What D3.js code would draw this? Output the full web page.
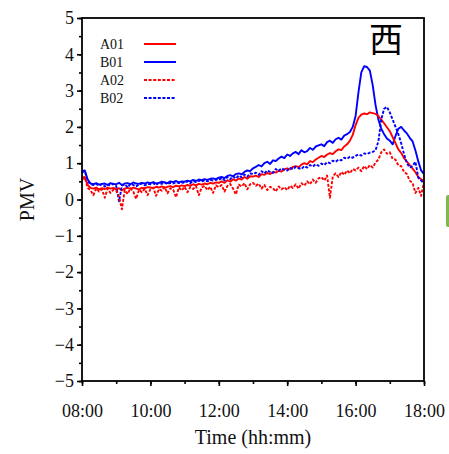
<!DOCTYPE html>
<html lang="zh">
  <head>
    <meta charset="utf-8">
    <title>PMV 西</title>
    <script src="https://d3js.org/d3.v7.min.js"></script>
    <style>
      body { margin: 0; background: #fff; }
      text { font-family: "Liberation Serif", "Times New Roman", serif; }
    </style>
  </head>
  <body>
    <div id="container"></div>
    <script>
      width = 449;
      height = 454;
      margin = ({top: 18, right: 25, bottom: 73, left: 82});

      // PMV readings every 5 minutes, 08:00 -> 18:00
      A01 = [0.60, 0.62, 0.40, 0.32, 0.30, 0.33, 0.28, 0.31, 0.29, 0.33, 0.30, 0.32,
             0.28, 0.31, 0.25, 0.30, 0.32, 0.29, 0.33, 0.30, 0.28, 0.32, 0.31, 0.34,
             0.33, 0.31, 0.35, 0.33, 0.36, 0.32, 0.35, 0.37, 0.34, 0.38, 0.36, 0.39,
             0.37, 0.40, 0.38, 0.42, 0.39, 0.43, 0.41, 0.44, 0.42, 0.46, 0.44, 0.47,
             0.46, 0.50, 0.46, 0.53, 0.49, 0.56, 0.52, 0.58, 0.55, 0.62, 0.57, 0.64,
             0.63, 0.66, 0.62, 0.70, 0.68, 0.73, 0.70, 0.76, 0.74, 0.79, 0.77, 0.83,
             0.86, 0.83, 0.90, 0.92, 0.89, 0.96, 1.00, 0.97, 1.06, 1.03, 1.10, 1.15,
             1.20, 1.17, 1.24, 1.28, 1.25, 1.33, 1.38, 1.36, 1.46, 1.52, 1.62, 1.78,
             2.05, 2.25, 2.34, 2.37, 2.35, 2.40, 2.38, 2.36, 2.30, 2.20, 2.10, 1.99,
             1.88, 1.72, 1.55, 1.38, 1.28, 1.14, 1.04, 0.95, 0.85, 0.75, 0.62, 0.56,
             0.50];
      B01 = [0.78, 0.80, 0.55, 0.44, 0.42, 0.45, 0.41, 0.43, 0.44, 0.40, 0.45, 0.43,
             0.42, 0.46, 0.40, 0.44, 0.45, 0.42, 0.47, 0.44, 0.43, 0.46, 0.44, 0.47,
             0.45, 0.48, 0.44, 0.46, 0.49, 0.47, 0.45, 0.50, 0.48, 0.51, 0.47, 0.50,
             0.49, 0.52, 0.50, 0.54, 0.51, 0.55, 0.53, 0.56, 0.54, 0.57, 0.58, 0.56,
             0.60, 0.62, 0.59, 0.65, 0.67, 0.64, 0.70, 0.72, 0.69, 0.76, 0.80, 0.78,
             0.86, 0.90, 0.95, 0.91, 1.00, 1.04, 0.98, 1.08, 1.06, 1.13, 1.18, 1.14,
             1.24, 1.20, 1.27, 1.31, 1.25, 1.36, 1.30, 1.33, 1.42, 1.37, 1.46, 1.49,
             1.52, 1.47, 1.58, 1.62, 1.56, 1.66, 1.70, 1.65, 1.76, 1.80, 1.86, 2.00,
             2.30, 2.95, 3.50, 3.67, 3.65, 3.55, 3.15, 2.60, 2.20, 1.95, 1.80, 1.68,
             1.62, 1.52, 1.75, 1.95, 2.00, 1.90, 1.82, 1.70, 1.60, 1.35, 1.05, 0.80,
             0.70];
      A02 = [0.55, 0.60, 0.32, 0.25, 0.12, 0.31, 0.22, 0.28, 0.05, 0.30, 0.18, 0.27,
             0.24, 0.08, -0.27, 0.26, 0.15, 0.31, 0.22, 0.02, 0.27, 0.20, 0.30, 0.12,
             0.28, 0.33, 0.10, 0.29, 0.24, 0.34, 0.17, 0.31, 0.27, 0.06, 0.33, 0.25,
             0.35, 0.20, 0.34, 0.29, 0.37, 0.12, 0.33, 0.38, 0.26, 0.35, 0.18, 0.39,
             0.34, 0.40, 0.22, 0.37, 0.43, 0.30, 0.14, 0.41, 0.36, 0.45, 0.28, 0.42,
             0.46, 0.38, 0.44, 0.30, 0.40, 0.26, 0.35, 0.31, 0.22, 0.36, 0.28, 0.34,
             0.26, 0.38, 0.32, 0.42, 0.30, 0.45, 0.38, 0.50, 0.42, 0.55, 0.46, 0.58,
             0.62, 0.52, 0.66, 0.05, 0.64, 0.72, 0.62, 0.76, 0.68, 0.80, 0.72, 0.84,
             0.80, 0.88, 0.78, 0.92, 0.84, 0.95, 0.88, 1.02, 1.10, 1.30, 1.38, 1.26,
             1.30, 1.12, 1.10, 0.94, 0.92, 0.76, 0.70, 0.52, 0.45, 0.18, 0.32, 0.10,
             0.50];
      B02 = [0.75, 0.78, 0.50, 0.42, 0.40, 0.43, 0.38, 0.42, 0.36, 0.41, 0.39, 0.43,
             0.37, -0.05, 0.38, 0.42, 0.33, 0.43, 0.40, 0.36, 0.42, 0.44, 0.39, 0.43,
             0.42, 0.45, 0.40, 0.46, 0.43, 0.47, 0.42, 0.46, 0.44, 0.48, 0.45, 0.47,
             0.46, 0.50, 0.45, 0.51, 0.48, 0.52, 0.49, 0.53, 0.50, 0.54, 0.52, 0.55,
             0.54, 0.59, 0.53, 0.62, 0.56, 0.64, 0.58, 0.66, 0.61, 0.69, 0.63, 0.72,
             0.70, 0.74, 0.68, 0.78, 0.72, 0.80, 0.76, 0.73, 0.84, 0.79, 0.86, 0.82,
             0.80, 0.87, 0.83, 0.90, 0.86, 0.84, 0.92, 0.88, 0.95, 0.91, 0.97, 0.93,
             0.99, 0.95, 1.03, 1.00, 1.07, 1.04, 1.10, 1.08, 1.15, 1.12, 1.18, 1.15,
             1.20, 1.24, 1.21, 1.27, 1.25, 1.29, 1.31, 1.36, 1.60, 2.20, 2.50, 2.55,
             2.40, 2.20, 2.00, 1.80, 1.55, 1.25, 1.00, 0.88, 0.92, 1.04, 0.60, 0.52,
             0.45];

      seriesNames = ["B01", "A01", "B02", "A02"];
      legendNames = ["A01", "B01", "A02", "B02"];
      yTicks = [-5, -4, -3, -2, -1, 0, 1, 2, 3, 4, 5];
      panelLabel = "西";

      values = {A01, B01, A02, B02};
      colors = {A01: "#ff0000", B01: "#0000ff", A02: "#ff0000", B02: "#0000ff"};
      dashes = {A01: null, B01: null, A02: "3,1.6", B02: "3,1.6"};
      serif = "'Liberation Serif', 'Times New Roman', serif";

      t0 = new Date(2000, 0, 1, 8, 0);
      t1 = new Date(2000, 0, 1, 18, 0);
      times = d3.range(A01.length).map(i => d3.timeMinute.offset(t0, i * 5));

      x = d3.scaleTime()
        .domain([t0, t1])
        .range([margin.left, width - margin.right]);
      y = d3.scaleLinear()
        .domain([-5, 5])
        .range([height - margin.bottom, margin.top]);

      chart = (function(){
        const svg = d3.create("svg")
            .attr("width", width)
            .attr("height", height)
            .attr("viewBox", [0, 0, width, height]);

        svg.append("defs").append("clipPath")
            .attr("id", "plot-clip")
          .append("rect")
            .attr("x", margin.left)
            .attr("y", margin.top)
            .attr("width", width - margin.left - margin.right)
            .attr("height", height - margin.top - margin.bottom);

        // bit of a neighbouring panel peeking in at the right edge
        svg.append("rect")
            .attr("x", 446).attr("y", 195)
            .attr("width", 8).attr("height", 32)
            .attr("rx", 2)
            .attr("fill", "#80b84e");

        const line = d3.line()
            .x((d, i) => x(times[i]))
            .y(d => y(d));

        svg.append("g")
            .attr("clip-path", "url(#plot-clip)")
          .selectAll("path")
          .data(seriesNames)
          .join("path")
            .attr("fill", "none")
            .attr("stroke", k => colors[k])
            .attr("stroke-width", 1.9)
            .attr("stroke-dasharray", k => dashes[k])
            .attr("stroke-linejoin", "round")
            .attr("d", k => line(values[k]));

        // frame
        svg.append("rect")
            .attr("x", margin.left)
            .attr("y", margin.top)
            .attr("width", width - margin.left - margin.right)
            .attr("height", height - margin.top - margin.bottom)
            .attr("fill", "none")
            .attr("stroke", "#000")
            .attr("stroke-width", 1.8);

        // x axis
        svg.append("g")
            .attr("transform", `translate(0,${height - margin.bottom})`)
            .call(d3.axisBottom(x).ticks(d3.timeHour.every(1)).tickSize(3).tickFormat(""))
            .call(g => g.select(".domain").remove())
            .call(g => g.selectAll("line").attr("stroke-width", 1.6));
        svg.append("g")
            .attr("transform", `translate(0,${height - margin.bottom})`)
            .call(d3.axisBottom(x).ticks(d3.timeHour.every(2)).tickSize(5).tickPadding(18)
              .tickFormat(d3.timeFormat("%H:%M")))
            .call(g => g.select(".domain").remove())
            .call(g => g.selectAll("line").attr("stroke-width", 1.6))
            .call(g => g.selectAll("text")
              .style("font-family", serif)
              .style("font-size", "18px")
              .attr("fill", "#111"));

        // y axis
        svg.append("g")
            .attr("transform", `translate(${margin.left},0)`)
            .call(d3.axisLeft(y).ticks(20).tickSize(3).tickFormat(""))
            .call(g => g.select(".domain").remove())
            .call(g => g.selectAll("line").attr("stroke-width", 1.6));
        svg.append("g")
            .attr("transform", `translate(${margin.left},0)`)
            .call(d3.axisLeft(y).tickValues(yTicks).tickSize(5).tickPadding(3))
            .call(g => g.select(".domain").remove())
            .call(g => g.selectAll("line").attr("stroke-width", 1.6))
            .call(g => g.selectAll("text")
              .style("font-family", serif)
              .style("font-size", "18px")
              .attr("fill", "#111"));

        // axis titles
        svg.append("text")
            .attr("x", (margin.left + width - margin.right) / 2)
            .attr("y", 444)
            .attr("text-anchor", "middle")
            .style("font-family", serif)
            .style("font-size", "20px")
            .attr("fill", "#111")
            .text("Time (hh:mm)");
        svg.append("text")
            .attr("transform", `translate(34,${y(0)}) rotate(-90)`)
            .attr("text-anchor", "middle")
            .style("font-family", serif)
            .style("font-size", "20px")
            .attr("fill", "#111")
            .text("PMV");

        // legend
        const legend = svg.append("g")
          .selectAll("g")
          .data(legendNames)
          .join("g")
            .attr("transform", (k, i) => `translate(0,${44 + i * 18})`);
        legend.append("text")
            .attr("x", 100)
            .attr("dy", "0.35em")
            .style("font-family", serif)
            .style("font-size", "14px")
            .attr("fill", "#111")
            .text(k => k);
        legend.append("line")
            .attr("x1", 144).attr("x2", 176)
            .attr("stroke", k => colors[k])
            .attr("stroke-width", 2)
            .attr("stroke-dasharray", k => dashes[k]);

        // panel label
        svg.append("text")
            .attr("x", 386)
            .attr("y", 52)
            .attr("text-anchor", "middle")
            .style("font-family", "'Noto Sans CJK SC'")
            .style("font-size", "34px")
            .attr("fill", "#000")
            .text(panelLabel);

        return svg.node();
      })();

      d3.select("#container").append(() => chart);
    </script>
  </body>
</html>
